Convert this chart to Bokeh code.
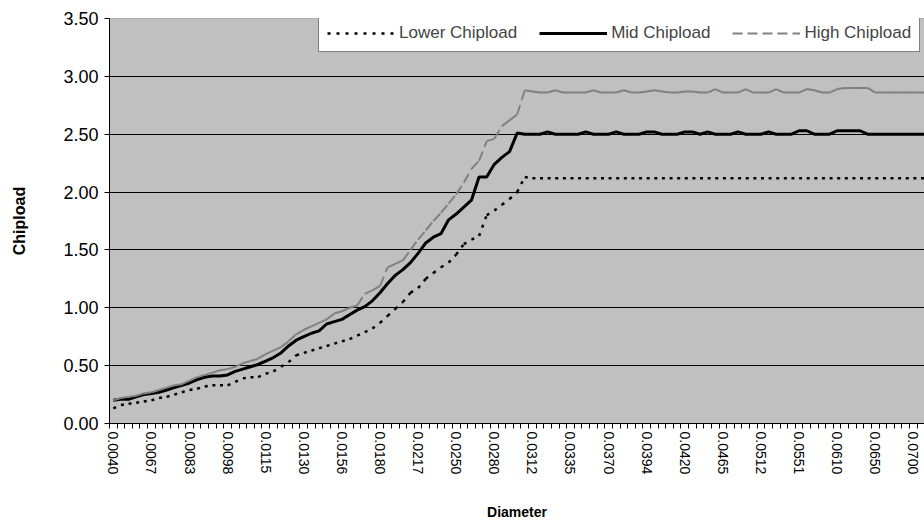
from bokeh.plotting import figure
from bokeh.models import (Range1d, FixedTicker, PrintfTickFormatter, Span, Legend, LegendItem,
                          ColumnDataSource)
from bokeh.embed import file_html
from bokeh.resources import INLINE

# ---- data -------------------------------------------------------------
diameter_labels = ["0.0040", "0.0067", "0.0083", "0.0098", "0.0115", "0.0130", "0.0156",
                   "0.0180", "0.0217", "0.0250", "0.0280", "0.0312", "0.0335", "0.0370",
                   "0.0394", "0.0420", "0.0465", "0.0512", "0.0551", "0.0610", "0.0650",
                   "0.0700"]
label_every = 5

lower_chipload = [
    0.13, 0.16, 0.17, 0.18, 0.19, 0.20, 0.22, 0.23, 0.25, 0.27,
    0.29, 0.30, 0.32, 0.33, 0.33, 0.33, 0.36, 0.39, 0.40, 0.40,
    0.43, 0.45, 0.49, 0.53, 0.59, 0.61, 0.63, 0.65, 0.67, 0.69,
    0.71, 0.73, 0.76, 0.79, 0.82, 0.87, 0.93, 0.99, 1.05, 1.13,
    1.17, 1.25, 1.30, 1.35, 1.39, 1.46, 1.55, 1.59, 1.62, 1.80,
    1.84, 1.89, 1.94, 2.00, 2.13, 2.12, 2.12, 2.12, 2.12, 2.12,
    2.12, 2.12, 2.12, 2.12, 2.12, 2.12, 2.12, 2.12, 2.12, 2.12,
    2.12, 2.12, 2.12, 2.12, 2.12, 2.12, 2.12, 2.12, 2.12, 2.12,
    2.12, 2.12, 2.12, 2.12, 2.12, 2.12, 2.12, 2.12, 2.12, 2.12,
    2.12, 2.12, 2.12, 2.12, 2.12, 2.12, 2.12, 2.12, 2.12, 2.12,
    2.12, 2.12, 2.12, 2.12, 2.12, 2.12, 2.12, 2.12]

mid_chipload = [
    0.20, 0.21, 0.21, 0.23, 0.25, 0.26, 0.27, 0.29, 0.31, 0.33,
    0.35, 0.38, 0.40, 0.41, 0.41, 0.42, 0.45, 0.47, 0.49, 0.51,
    0.54, 0.57, 0.61, 0.67, 0.72, 0.75, 0.78, 0.80, 0.86, 0.88,
    0.90, 0.94, 0.98, 1.01, 1.06, 1.13, 1.21, 1.28, 1.33, 1.39,
    1.47, 1.56, 1.61, 1.64, 1.76, 1.81, 1.87, 1.93, 2.13, 2.13,
    2.24, 2.30, 2.35, 2.51, 2.50, 2.50, 2.50, 2.52, 2.50, 2.50,
    2.50, 2.50, 2.52, 2.50, 2.50, 2.50, 2.52, 2.50, 2.50, 2.50,
    2.52, 2.52, 2.50, 2.50, 2.50, 2.52, 2.52, 2.50, 2.52, 2.50,
    2.50, 2.50, 2.52, 2.50, 2.50, 2.50, 2.52, 2.50, 2.50, 2.50,
    2.53, 2.53, 2.50, 2.50, 2.50, 2.53, 2.53, 2.53, 2.53, 2.50,
    2.50, 2.50, 2.50, 2.50, 2.50, 2.50, 2.50, 2.50]

high_chipload = [
    0.20, 0.22, 0.23, 0.24, 0.26, 0.27, 0.29, 0.31, 0.33, 0.34,
    0.37, 0.40, 0.42, 0.44, 0.46, 0.47, 0.49, 0.52, 0.54, 0.56,
    0.60, 0.63, 0.66, 0.71, 0.77, 0.81, 0.84, 0.87, 0.90, 0.95,
    0.97, 1.00, 1.02, 1.12, 1.15, 1.19, 1.35, 1.38, 1.41, 1.50,
    1.59, 1.67, 1.75, 1.82, 1.90, 1.98, 2.08, 2.20, 2.27, 2.44,
    2.46, 2.57, 2.62, 2.67, 2.88, 2.87, 2.86, 2.86, 2.88, 2.86,
    2.86, 2.86, 2.86, 2.88, 2.86, 2.86, 2.86, 2.88, 2.86, 2.86,
    2.87, 2.88, 2.87, 2.86, 2.86, 2.87, 2.87, 2.86, 2.86, 2.89,
    2.86, 2.86, 2.86, 2.89, 2.86, 2.86, 2.86, 2.89, 2.86, 2.86,
    2.86, 2.89, 2.88, 2.86, 2.86, 2.89, 2.90, 2.90, 2.90, 2.90,
    2.86, 2.86, 2.86, 2.86, 2.86, 2.86, 2.86, 2.86]

y_ticks = [0.0, 0.5, 1.0, 1.5, 2.0, 2.5, 3.0, 3.5]

n = len(mid_chipload)
assert len(lower_chipload) == n and len(high_chipload) == n
idx = list(range(n))

FONT = "Liberation Sans"

p = figure(width=924, height=523, output_backend="svg", toolbar_location=None,
           x_range=Range1d(-0.5, 106.46), y_range=Range1d(0, 3.5),
           min_border_left=109, min_border_right=0, min_border_top=18, min_border_bottom=97)
p.background_fill_color = "#C0C0C0"
p.border_fill_color = "white"
p.outline_line_color = None
p.xgrid.grid_line_color = None
p.ygrid.ticker = FixedTicker(ticks=y_ticks[1:-1])
p.ygrid.grid_line_color = "black"
p.ygrid.grid_line_width = 1

p.add_layout(Span(location=y_ticks[-1], dimension="width", line_color="#808080", line_width=1))

# x axis
p.xaxis.ticker = FixedTicker(ticks=[i * label_every for i in range(len(diameter_labels))],
                             minor_ticks=[i - 0.5 for i in range(n)])
p.xaxis.major_label_overrides = {i * label_every: s for i, s in enumerate(diameter_labels)}
p.xaxis.major_label_orientation = "vertical"
p.xaxis.major_tick_line_color = None
p.xaxis.major_tick_out = 5
p.xaxis.major_tick_in = 0
p.xaxis.minor_tick_line_color = "black"
p.xaxis.minor_tick_out = 5
p.xaxis.minor_tick_in = 0
p.xaxis.major_label_standoff = 3
p.xaxis.axis_line_color = "black"
p.xaxis.axis_label = "Diameter"
p.xaxis.axis_label_standoff = 27
p.xaxis.major_label_text_font_size = "14px"
p.xaxis.axis_label_text_font_size = "14px"

# y axis
p.yaxis.ticker = FixedTicker(ticks=y_ticks)
p.yaxis.formatter = PrintfTickFormatter(format="%.2f")
p.yaxis.major_tick_out = 5
p.yaxis.major_tick_in = 0
p.yaxis.minor_tick_line_color = None
p.yaxis.major_label_standoff = 6
p.yaxis.axis_line_color = "black"
p.yaxis.axis_label = "Chipload"
p.yaxis.axis_label_standoff = 32
p.yaxis.major_label_text_font_size = "18px"
p.yaxis.axis_label_text_font_size = "16px"

for ax in (p.xaxis, p.yaxis):
    ax.major_label_text_font = FONT
    ax.major_label_text_color = "black"
    ax.axis_label_text_font = FONT
    ax.axis_label_text_font_style = "bold"
    ax.axis_label_text_color = "black"

# segment-wise dashed lines (dash pattern restarts on each segment)
def segs(vals):
    return dict(xs=[[i, i + 1] for i in range(n - 1)],
                ys=[[vals[i], vals[i + 1]] for i in range(n - 1)])

r_low = p.multi_line(xs="xs", ys="ys", source=ColumnDataSource(segs(lower_chipload)),
                     line_color="black", line_width=2.5, line_dash="3 6")
r_mid = p.line(idx, mid_chipload, line_color="black", line_width=3)
r_high = p.multi_line(xs="xs", ys="ys", source=ColumnDataSource(segs(high_chipload)),
                      line_color="#808080", line_width=2, line_dash="10 5")

legend = Legend(items=[LegendItem(label="Lower Chipload", renderers=[r_low]),
                       LegendItem(label="Mid Chipload", renderers=[r_mid]),
                       LegendItem(label="High Chipload", renderers=[r_high])],
                orientation="horizontal", location=(209, 371),
                label_text_font=FONT, label_text_font_size="17px",
                glyph_width=68, glyph_height=16, label_standoff=4, spacing=22,
                padding=8, margin=0, border_line_color="black", border_line_width=1,
                background_fill_color="white", background_fill_alpha=1.0)
p.add_layout(legend, "center")

open("out.html", "w").write(file_html(p, INLINE))
